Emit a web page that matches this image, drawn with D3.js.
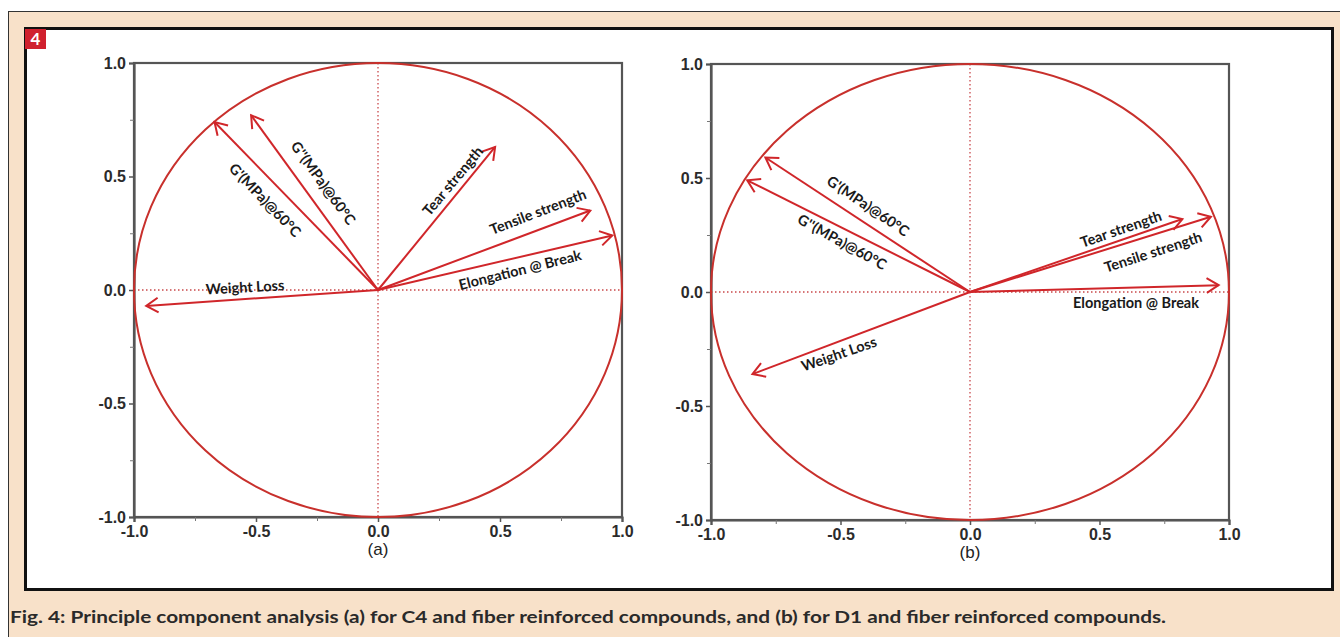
<!DOCTYPE html>
<html>
<head>
<meta charset="utf-8">
<script src="https://cdn.jsdelivr.net/npm/d3@7.9.0/dist/d3.min.js"></script>
<style>
  html, body { margin: 0; padding: 0; background: #fff; }
  svg { display: block; }
</style>
</head>
<body>
<svg id="chart" width="1340" height="637"></svg>
<script>
// PCA loadings (PC1, PC2)
const variablesA = ['Weight Loss', "G'(MPa)@60°C", "G''(MPa)@60°C", 'Tear strength', 'Tensile strength', 'Elongation @ Break'];
const pc1A = [-0.95, -0.67, -0.52, 0.48, 0.87, 0.96];
const pc2A = [-0.07, 0.74, 0.77, 0.63, 0.35, 0.24];

const variablesB = ["G'(MPa)@60°C", "G''(MPa)@60°C", 'Weight Loss', 'Tear strength', 'Tensile strength', 'Elongation @ Break'];
const pc1B = [-0.79, -0.86, -0.84, 0.82, 0.93, 0.96];
const pc2B = [0.59, 0.49, -0.36, 0.32, 0.33, 0.03];

const tickValues = [-1.0, -0.5, 0.0, 0.5, 1.0];
const minorTicks = [-0.75, -0.25, 0.25, 0.75];
const panelTitles = ['(a)', '(b)'];
const caption = 'Fig. 4: Principle component analysis (a) for C4 and fiber reinforced compounds, and (b) for D1 and fiber reinforced compounds.';

// label placement (in loading units) and rotation for each arrow label
const labelLayoutA = [
  { x: -0.545, y: 0.012, rot: -3 },
  { x: -0.463, y: 0.396, rot: 46 },
  { x: -0.225, y: 0.471, rot: 54 },
  { x: 0.307, y: 0.48, rot: -50 },
  { x: 0.656, y: 0.344, rot: -21 },
  { x: 0.582, y: 0.088, rot: -14 },
];
const labelLayoutB = [
  { x: -0.394, y: 0.377, rot: 34 },
  { x: -0.494, y: 0.219, rot: 29 },
  { x: -0.506, y: -0.272, rot: -19 },
  { x: 0.583, y: 0.276, rot: -19 },
  { x: 0.707, y: 0.175, rot: -18 },
  { x: 0.641, y: -0.048, rot: 0 },
];

const RED = '#d0262a';
const svg = d3.select('#chart');

// page frame
svg.append('rect').attr('x', 8.5).attr('y', 11.5).attr('width', 1340).attr('height', 640)
  .attr('fill', '#f8e1c9').attr('stroke', '#333').attr('stroke-width', 1);
svg.append('rect').attr('x', 25.5).attr('y', 28.5).attr('width', 1307).attr('height', 561)
  .attr('fill', '#fff').attr('stroke', '#111').attr('stroke-width', 3);

// badge
svg.append('rect').attr('x', 25).attr('y', 29).attr('width', 21).attr('height', 20).attr('fill', '#d0202e');
svg.append('text').attr('x', 35.5).attr('y', 45).attr('text-anchor', 'middle')
  .attr('fill', '#fff').attr('font-family', 'Lato, sans-serif').attr('font-weight', 'bold')
  .attr('font-size', 17).text('4');

function drawPanel(box, names, pc1, pc2, layout, title) {
  const x = d3.scaleLinear().domain([-1, 1]).range([box.left, box.right]);
  const y = d3.scaleLinear().domain([-1, 1]).range([box.bottom, box.top]);
  const g = svg.append('g');
  const fmt = (d) => d.toFixed(1);

  // frame
  g.append('rect').attr('x', box.left).attr('y', box.top)
    .attr('width', box.right - box.left).attr('height', box.bottom - box.top)
    .attr('fill', 'none').attr('stroke', '#555').attr('stroke-width', 2.2);

  // axes
  const xAxis = d3.axisBottom(x).tickValues(tickValues).tickFormat(fmt).tickSize(5).tickPadding(4);
  const yAxis = d3.axisLeft(y).tickValues(tickValues).tickFormat(fmt).tickSize(5).tickPadding(3);
  const styleAxis = (sel) => {
    sel.select('.domain').attr('stroke', '#555').attr('stroke-width', 2.2);
    sel.selectAll('.tick line').attr('stroke', '#555').attr('stroke-width', 1.5);
    sel.selectAll('text').attr('font-family', '"Liberation Sans", Arial, sans-serif')
      .attr('font-weight', 'bold').attr('font-size', 16).attr('fill', '#2b2b2b');
  };
  g.append('g').attr('transform', `translate(0,${box.bottom})`).call(xAxis).call(styleAxis);
  g.append('g').attr('transform', `translate(${box.left},0)`).call(yAxis).call(styleAxis);
  g.append('g').attr('transform', `translate(0,${box.bottom})`)
    .call(d3.axisBottom(x).tickValues(minorTicks).tickFormat('').tickSize(4))
    .call((s) => { s.select('.domain').remove(); s.selectAll('line').attr('stroke', '#777'); });
  g.append('g').attr('transform', `translate(${box.left},0)`)
    .call(d3.axisLeft(y).tickValues(minorTicks).tickFormat('').tickSize(4))
    .call((s) => { s.select('.domain').remove(); s.selectAll('line').attr('stroke', '#777'); });

  // dotted reference lines
  g.append('line').attr('x1', x(-1)).attr('x2', x(1)).attr('y1', y(0)).attr('y2', y(0))
    .attr('stroke', '#c9484a').attr('stroke-width', 1.3).attr('stroke-dasharray', '1.5,2.5');
  g.append('line').attr('x1', x(0)).attr('x2', x(0)).attr('y1', y(1)).attr('y2', y(-1))
    .attr('stroke', '#c9484a').attr('stroke-width', 1.3).attr('stroke-dasharray', '1.5,2.5');

  // correlation circle
  g.append('ellipse').attr('cx', x(0)).attr('cy', y(0))
    .attr('rx', x(1) - x(0)).attr('ry', y(0) - y(1))
    .attr('fill', 'none').attr('stroke', '#c8302c').attr('stroke-width', 2);

  // arrows
  const data = names.map((n, i) => ({ name: n, px: pc1[i], py: pc2[i], lab: layout[i] }));
  const arrows = g.append('g').selectAll('g').data(data).join('g');
  arrows.append('line')
    .attr('x1', x(0)).attr('y1', y(0))
    .attr('x2', (d) => x(d.px)).attr('y2', (d) => y(d.py))
    .attr('stroke', RED).attr('stroke-width', 2);
  arrows.append('path')
    .attr('d', (d) => {
      const tx = x(d.px), ty = y(d.py);
      const a = Math.atan2(ty - y(0), tx - x(0));
      const L = 14, w = 0.55;
      const p1 = [tx - L * Math.cos(a - w), ty - L * Math.sin(a - w)];
      const p2 = [tx - L * Math.cos(a + w), ty - L * Math.sin(a + w)];
      return `M${p1}L${tx},${ty}L${p2}`;
    })
    .attr('fill', 'none').attr('stroke', RED).attr('stroke-width', 2);
  arrows.append('text')
    .attr('transform', (d) => `translate(${x(d.lab.x)},${y(d.lab.y)}) rotate(${d.lab.rot})`)
    .attr('text-anchor', 'middle').attr('dy', '0.35em')
    .attr('font-family', 'Lato, sans-serif').attr('font-weight', 'bold').attr('font-size', 14.5)
    .attr('fill', '#1a1a1a')
    .text((d) => d.name);

  // panel title
  g.append('text').attr('x', x(0)).attr('y', box.bottom + 38)
    .attr('text-anchor', 'middle').attr('font-family', '"Liberation Sans", Arial, sans-serif')
    .attr('font-size', 17).attr('fill', '#222').text(title);
}

drawPanel({ left: 134, right: 622, top: 63, bottom: 517 }, variablesA, pc1A, pc2A, labelLayoutA, panelTitles[0]);
drawPanel({ left: 711, right: 1229, top: 64, bottom: 520 }, variablesB, pc1B, pc2B, labelLayoutB, panelTitles[1]);

// caption
svg.append('text').attr('x', 10).attr('y', 623)
  .attr('font-family', 'Lato, sans-serif').attr('font-weight', 'bold').attr('font-size', 17)
  .attr('fill', '#2a2a2a').attr('textLength', 1156).attr('lengthAdjust', 'spacingAndGlyphs')
  .text(caption);
</script>
</body>
</html>
